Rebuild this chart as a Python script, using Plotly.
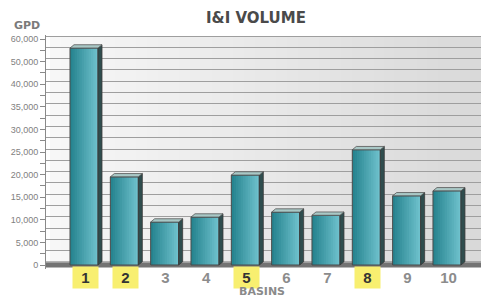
import plotly.graph_objects as go

# ---------------- data ----------------
basins = [1, 2, 3, 4, 5, 6, 7, 8, 9, 10]
basin_labels = ["1", "2", "3", "4", "5", "6", "7", "8", "9", "10"]
gpd = [48000, 19500, 9500, 10600, 19900, 11700, 11000, 25500, 15300, 16400]
highlighted = ["1", "2", "5", "8"]
tick_values = [v * 2500 for v in range(21)]
tick_text_map = {0: "0", 5000: "5,000", 10000: "10,000", 15000: "15,000",
                 20000: "20,000", 25000: "25,000", 30000: "30,000",
                 35000: "35,000", 40000: "40,000", 45000: "50,000", 50000: "60,000"}
tick_text = [tick_text_map.get(v, "") for v in tick_values]

# ---------------- geometry ----------------
W, H = 481, 297
L, R, T, B = 46, 0, 35, 28
plot_h = H - T - B
plot_w = W - L - R
PX = 22.6 / 5000.0            # pixels per GPD unit
ymin = -(H - B - 265) / PX
ymax = ymin + plot_h / PX
UNIT = 40.33                  # pixels per category
xmin = 1 - 38 / UNIT
xmax = xmin + plot_w / UNIT
bw = 28 / UNIT                # front face width
dx = 4 / UNIT                 # depth (x)
dy = 3.3 / PX                 # depth (y)

def hexmix(c1, c2, t):
    a = [int(c1[i:i + 2], 16) for i in (1, 3, 5)]
    b = [int(c2[i:i + 2], 16) for i in (1, 3, 5)]
    return "#%02x%02x%02x" % tuple(round(a[k] + (b[k] - a[k]) * t) for k in range(3))

def py_to_paper(py):
    return (H - B - py) / plot_h

fig = go.Figure()

# side faces
sx, sy = [], []
for x, v in zip(basins, gpd):
    r = x + bw / 2
    sx += [r, r + dx, r + dx, r, r, None]
    sy += [0, dy, v + dy, v, 0, None]
fig.add_trace(go.Scatter(x=sx, y=sy, mode="lines", fill="toself",
                         fillcolor="#2f4d4e", line=dict(color="#3a3a3a", width=0.8),
                         hoverinfo="skip", showlegend=False))

# front faces: overlapping gradient layers (each reaches the right edge)
N = 12
for i in range(N):
    col = hexmix("#26848f", "#6ec0cc", i / (N - 1))
    fig.add_trace(go.Bar(x=basins, y=gpd, width=bw - i * bw / N,
                         offset=-bw / 2 + i * bw / N,
                         marker=dict(color=col, line=dict(width=0)),
                         hoverinfo="skip", showlegend=False))
# outline
fig.add_trace(go.Bar(x=basins, y=gpd, width=bw, offset=-bw / 2,
                     marker=dict(color="rgba(0,0,0,0)", line=dict(color="#4a4a4a", width=1)),
                     showlegend=False, name="I&I Volume"))

# top faces
tx, ty = [], []
for x, v in zip(basins, gpd):
    l, r = x - bw / 2, x + bw / 2
    tx += [l, r, r + dx, l + dx, l, None]
    ty += [v, v, v + dy, v + dy, v, None]
fig.add_trace(go.Scatter(x=tx, y=ty, mode="lines", fill="toself",
                         fillcolor="#a9c8c6", line=dict(color="#555555", width=0.8),
                         hoverinfo="skip", showlegend=False))

# invisible trace on y2 so the back-wall grid axis is drawn
fig.add_trace(go.Scatter(x=[basins[0]], y=[0], yaxis="y2", mode="markers",
                         marker=dict(opacity=0), hoverinfo="skip", showlegend=False))

shapes = []
# back wall gradient
NS = 40
for i in range(NS):
    shapes.append(dict(type="rect", xref="paper", yref="y",
                       x0=(4 / plot_w) + i * (1 - 4 / plot_w) / NS,
                       x1=(4 / plot_w) + (i + 1) * (1 - 4 / plot_w) / NS + 0.002,
                       y0=dy * 0.9, y1=50000 + dy * 0.9,
                       fillcolor=hexmix("#f7f7f7", "#d9d9d9", i / (NS - 1)),
                       line=dict(width=0), layer="below"))
# floor
shapes.append(dict(type="rect", xref="paper", yref="y", x0=0, x1=1,
                   y0=-560, y1=dy * 1.05, fillcolor="#737373",
                   line=dict(width=0), layer="between"))

annotations = []
for x, lab in zip(basins, basin_labels):
    hl = lab in highlighted
    annotations.append(dict(x=x + 0.03, y=py_to_paper(277), xref="x", yref="paper", text="<b>%s</b>" % lab,
                            showarrow=False, xanchor="center", yanchor="middle",
                            font=dict(family="Liberation Sans", size=15,
                                      color="#333333" if hl else "#8c8c8c"),
                            bgcolor="#f8ef70" if hl else "rgba(0,0,0,0)",
                            width=23, height=19, borderpad=1))
annotations.append(dict(x=(12 - L) / plot_w, y=py_to_paper(25.5), xref="paper", yref="paper",
                        text="<b>GPD</b>", showarrow=False, xanchor="left", yanchor="middle",
                        font=dict(family="DejaVu Sans", size=11, color="#7a7a7a")))
annotations.append(dict(x=(262 - L) / plot_w, y=py_to_paper(291), xref="paper", yref="paper",
                        text="<b>BASINS</b>", showarrow=False, xanchor="center", yanchor="middle",
                        font=dict(family="DejaVu Sans", size=11, color="#8a8a8a")))

fig.update_layout(
    width=W, height=H,
    margin=dict(l=L, r=R, t=T, b=B, pad=0),
    paper_bgcolor="white", plot_bgcolor="white",
    barmode="overlay",
    title=dict(text="<b>I&I VOLUME</b>", x=256 / W, xanchor="center",
               y=1 - 17.5 / H, yanchor="middle",
               font=dict(family="DejaVu Sans", size=15, color="#4a4a4a")),
    xaxis=dict(range=[xmin, xmax], showgrid=False, zeroline=False,
               showticklabels=False, ticks="", showline=False, fixedrange=True),
    yaxis=dict(range=[ymin, ymax], tickvals=tick_values, ticktext=tick_text,
               ticks="outside", ticklen=5, tickcolor="#8a8a8a", tickwidth=1,
               showline=True, linecolor="#8a8a8a", linewidth=1,
               showgrid=False, zeroline=False,
               tickfont=dict(family="Liberation Sans", size=9, color="#7f7f7f")),
    yaxis2=dict(range=[ymin - dy * 0.9, ymax - dy * 0.9], overlaying="y", side="left",
                tickvals=tick_values, showticklabels=False, ticks="",
                showgrid=True, gridcolor="#9e9e9e", gridwidth=1,
                zeroline=False, showline=False),
    shapes=shapes,
    annotations=annotations,
    showlegend=False,
)

fig.write_html("out.html", config={"displayModeBar": False},
               post_script="document.body.style.margin='0';document.body.style.overflow='hidden';")
